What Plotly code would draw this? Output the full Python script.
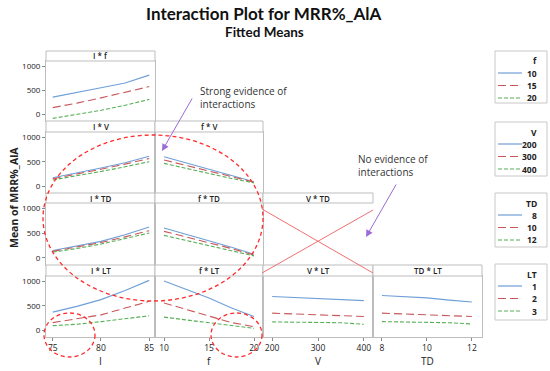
import plotly.graph_objects as go

# ---------------- data ----------------
I_levels = [75, 77.5, 80, 82.5, 85]
f_levels = [10, 12.5, 15, 17.5, 20]
V_levels = [200, 250, 300, 350, 400]
TD_levels = [8, 9, 10, 11, 12]

f_values = ["10", "15", "20"]
V_values = ["200", "300", "400"]
TD_values = ["8", "10", "12"]
LT_values = ["1", "2", "3"]

# I * f (series by f)
If_10 = [355, 445, 550, 650, 815]
If_15 = [137, 230, 340, 450, 576]
If_20 = [-88, -10, 80, 185, 308]
# I * V (series by V)
IV_200 = [170, 265, 370, 480, 612]
IV_300 = [150, 240, 345, 450, 565]
IV_400 = [125, 205, 300, 395, 500]
# f * V
fV_200 = [600, 470, 340, 215, 90]
fV_300 = [535, 420, 300, 185, 80]
fV_400 = [465, 360, 255, 155, 65]
# I * TD
ITD_8 = [150, 235, 335, 470, 626]
ITD_10 = [133, 215, 310, 425, 551]
ITD_12 = [116, 190, 280, 390, 504]
# f * TD
fTD_8 = [606, 480, 350, 215, 75]
fTD_10 = [537, 425, 305, 190, 60]
fTD_12 = [455, 355, 255, 150, 41]
# I * LT
ILT_1 = [368, 486, 625, 812, 1020]
ILT_2 = [153, 229, 312, 451, 590]
ILT_3 = [90, 118, 173, 229, 292]
# f * LT
fLT_1 = [1006, 833, 660, 451, 278]
fLT_2 = [556, 417, 278, 153, 69]
fLT_3 = [265, 208, 153, 90, 35]
# V * LT
VLT_1 = [688, 670, 652, 625, 604]
VLT_2 = [347, 330, 312, 290, 278]
VLT_3 = [167, 165, 160, 150, 118]
# TD * LT
TDLT_1 = [708, 685, 660, 615, 576]
TDLT_2 = [347, 330, 312, 290, 278]
TDLT_3 = [173, 165, 160, 150, 125]

y_ticks = [0, 500, 1000]
I_ticks = [75, 80, 85]
f_ticks = [10, 15, 20]
V_ticks = [200, 300, 400]
TD_ticks = [8, 10, 12]

# ---------------- layout helpers ----------------
W, H = 550, 371
def px(x): return x / W
def py(y): return 1 - y / H

FONT = "Open Sans"
TFONT = "Lato"
GRID = "#bdbdbd"
COLORS = ["#6f9fd8", "#c9585b", "#55b055"]
DASHES = ["solid", "8px,4px", "4px,2px"]

cols = {"I": (46, 155), "f": (155, 263), "V": (263, 373), "TD": (373, 482)}
rows = {"f": (61, 121), "V": (132, 193), "TD": (203, 265), "LT": (276, 337)}
heads = {"f": 51, "V": 121, "TD": 193, "LT": 265}
xranges = {"I": [74.3, 85.6], "f": [9, 21], "V": [180, 420], "TD": [7.6, 12.45]}
xlevels = {"I": I_levels, "f": f_levels, "V": V_levels, "TD": TD_levels}
xticks = {"I": I_ticks, "f": f_ticks, "V": V_ticks, "TD": TD_ticks}

panels = [
    ("I", "f", [If_10, If_15, If_20], f_values),
    ("I", "V", [IV_200, IV_300, IV_400], V_values),
    ("f", "V", [fV_200, fV_300, fV_400], V_values),
    ("I", "TD", [ITD_8, ITD_10, ITD_12], TD_values),
    ("f", "TD", [fTD_8, fTD_10, fTD_12], TD_values),
    ("V", "TD", None, TD_values),
    ("I", "LT", [ILT_1, ILT_2, ILT_3], LT_values),
    ("f", "LT", [fLT_1, fLT_2, fLT_3], LT_values),
    ("V", "LT", [VLT_1, VLT_2, VLT_3], LT_values),
    ("TD", "LT", [TDLT_1, TDLT_2, TDLT_3], LT_values),
]

fig = go.Figure()
layout = dict(width=W, height=H, margin=dict(l=0, r=0, t=0, b=0),
              paper_bgcolor="white", plot_bgcolor="white", showlegend=False,
              font=dict(family=FONT, size=8, color="#222"))
shapes, annotations = [], []

for k, (xv, sv, series, names) in enumerate(panels, start=1):
    sfx = "" if k == 1 else str(k)
    c0, c1 = cols[xv]
    r0, r1 = rows[sv]
    bottom = sv == "LT"
    left = xv == "I"
    if series:
        for s, (vals, nm) in enumerate(zip(series, names)):
            fig.add_trace(go.Scatter(
                x=xlevels[xv], y=vals, mode="lines", name=f"{sv}={nm}",
                line=dict(color=COLORS[s], width=1.1, dash=DASHES[s]),
                xaxis="x" + sfx, yaxis="y" + sfx, hoverinfo="x+y+name"))
    layout["xaxis" + sfx] = dict(
        domain=[px(c0), px(c1)], range=xranges[xv], anchor="y" + sfx,
        showgrid=False, zeroline=False, showline=True, mirror=True,
        linecolor=GRID, linewidth=1,
        tickvals=xticks[xv] if bottom else [], showticklabels=bottom,
        ticks="outside" if bottom else "", ticklen=3, tickcolor="#888",
        tickfont=dict(size=8.5, color="#222"))
    layout["yaxis" + sfx] = dict(
        domain=[py(r1), py(r0)], range=[-143, 1110], anchor="x" + sfx,
        showgrid=False, zeroline=False, showline=True, mirror=True,
        linecolor=GRID, linewidth=1,
        tickvals=y_ticks if left else [], showticklabels=left,
        ticks="outside" if left else "", ticklen=3, tickcolor="#888",
        tickfont=dict(size=8, color="#222"))
    # header strip
    h0 = heads[sv]
    shapes.append(dict(type="rect", xref="paper", yref="paper",
                       x0=px(c0), x1=px(c1), y0=py(r0), y1=py(h0),
                       fillcolor="white", line=dict(color=GRID, width=1)))
    annotations.append(dict(text=f"{xv} * {sv}", xref="paper", yref="paper",
                            x=px((c0 + c1) / 2), y=py((h0 + r0) / 2),
                            showarrow=False, xanchor="center", yanchor="middle",
                            font=dict(size=8, color="#222", weight=600)))

# x-axis titles
for xv in ["I", "f", "V", "TD"]:
    c0, c1 = cols[xv]
    annotations.append(dict(text=xv, xref="paper", yref="paper",
                            x=px((c0 + c1) / 2), y=py(361), showarrow=False,
                            xanchor="center", yanchor="middle",
                            font=dict(size=10, color="#222")))

# titles
annotations.append(dict(text="Interaction Plot for MRR%_AlA", xref="paper", yref="paper",
                        x=px(264), y=py(13), showarrow=False, xanchor="center",
                        yanchor="middle",
                        font=dict(family=TFONT, size=17, color="#111", weight="bold")))
annotations.append(dict(text="Fitted Means", xref="paper", yref="paper",
                        x=px(264.5), y=py(32), showarrow=False, xanchor="center",
                        yanchor="middle",
                        font=dict(family=TFONT, size=13.5, color="#111", weight="bold")))
annotations.append(dict(text="<b>Mean of MRR%_AlA</b>", xref="paper", yref="paper",
                        x=px(14), y=py(198), showarrow=False, textangle=-90,
                        xanchor="center", yanchor="middle",
                        font=dict(size=10.5, color="#222")))

# legends (manual boxes)
legends = [("f", f_values, 51, 103), ("V", V_values, 122, 176),
           ("TD", TD_values, 193, 247), ("LT", LT_values, 264, 320)]
for title, vals, t0, t1 in legends:
    shapes.append(dict(type="rect", xref="paper", yref="paper",
                       x0=px(495), x1=px(547), y0=py(t1), y1=py(t0),
                       fillcolor="white", line=dict(color="#c8c8c8", width=1)))
    annotations.append(dict(text=f"<b>{title}</b>", xref="paper", yref="paper",
                            x=px(539), y=py(t0 + 10), showarrow=False,
                            xanchor="right", yanchor="middle",
                            font=dict(size=8.5, color="#222")))
    for i, v in enumerate(vals):
        yy = t0 + 22 + i * 12.5
        shapes.append(dict(type="line", xref="paper", yref="paper",
                           x0=px(498), x1=px(522), y0=py(yy), y1=py(yy),
                           line=dict(color=COLORS[i], width=1.2, dash=DASHES[i])))
        annotations.append(dict(text=f"<b>{v}</b>", xref="paper", yref="paper",
                                x=px(539), y=py(yy), showarrow=False,
                                xanchor="right", yanchor="middle",
                                font=dict(size=8.5, color="#222")))

# commentary annotations
annotations.append(dict(text="Strong evidence of<br>interactions", xref="paper", yref="paper",
                        x=px(198), y=py(97), showarrow=False, xanchor="left",
                        yanchor="middle", align="left",
                        font=dict(size=10, color="#333")))
annotations.append(dict(text="No evidence of<br>interactions", xref="paper", yref="paper",
                        x=px(356), y=py(165), showarrow=False, xanchor="left",
                        yanchor="middle", align="left",
                        font=dict(size=10, color="#333")))
for tip in [(162, 151), (366, 237)]:
    annotations.append(dict(text="", xref="paper", yref="paper",
                            x=px(tip[0]), y=py(tip[1]), ax=31, ay=-54,
                            showarrow=True, arrowhead=2, arrowsize=1.4,
                            arrowwidth=1, arrowcolor="#9b6bd6"))

# red dashed ellipses
RED = "#ff2a2a"
for (x0, y0, x1, y1) in [(43, 135, 263, 301), (44, 313, 95, 357), (211, 313, 262, 357)]:
    shapes.append(dict(type="circle", xref="paper", yref="paper",
                       x0=px(x0), x1=px(x1), y0=py(y1), y1=py(y0),
                       line=dict(color=RED, width=1.3, dash="4px,3px")))
# red cross over V*TD
for (a, b, c, d) in [(262, 209, 373, 273), (262, 273, 373, 210)]:
    shapes.append(dict(type="line", xref="paper", yref="paper",
                       x0=px(a), y0=py(b), x1=px(c), y1=py(d),
                       line=dict(color="#f07070", width=1)))

layout["shapes"] = shapes
layout["annotations"] = annotations
fig.update_layout(**layout)
fig.write_html("out.html", config={"displayModeBar": False},
               post_script="document.body.style.margin='0';document.body.style.overflow='hidden';")
